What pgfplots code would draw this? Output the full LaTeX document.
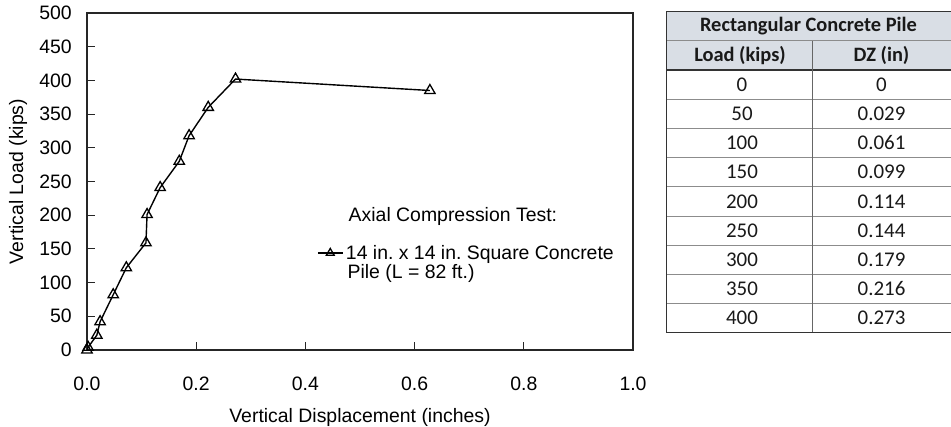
\documentclass[border=0pt]{standalone}
\usepackage{pgfplots}
\pgfplotsset{compat=1.18}
\usepackage{fontspec}
\setmainfont{Liberation Sans}
\newfontfamily\calibri{Carlito}
\definecolor{hdr}{HTML}{D9DEE5}
\definecolor{rule}{HTML}{8C8C8C}
\frenchspacing

\pgfplotstableread{
dz     load
0.000  0
0.002  4
0.018  22
0.024  42
0.048  82
0.072  122
0.108  159
0.110  201
0.134  241
0.169  280
0.187  318
0.222  360
0.272  402
0.628  385
}\pile

\begin{document}
\begin{tikzpicture}
\useasboundingbox (-87bp,-77bp) rectangle (864bp,350bp);
\begin{axis}[
    scale only axis, width=546bp, height=337bp,
    at={(0,0)}, anchor=south west,
    xmin=0, xmax=1, ymin=0, ymax=500,
    xtick={0,0.2,0.4,0.6,0.8,1.0},
    ytick={0,50,100,150,200,250,300,350,400,450,500},
    xtick pos=bottom, ytick pos=left,
    tick align=inside, major tick length=8bp,
    axis line style={line width=1.4pt, black!85},
    tick style={line width=1pt, black!85},
    /pgf/number format/assume math mode=true,
    xticklabel={\pgfmathprintnumber[fixed,fixed zerofill,precision=1]{\tick}},
    xticklabel style={anchor=north, inner sep=0pt, yshift=-27bp, font=\fontsize{19.5}{23}\selectfont},
    yticklabel style={anchor=east, inner sep=0pt, xshift=-15bp, font=\fontsize{19.5}{23}\selectfont},
    xlabel={Vertical Displacement (inches)},
    ylabel={Vertical Load (kips)},
    every axis x label/.style={at={(axis description cs:0.5,0)}, yshift=-67bp, anchor=center, font=\fontsize{19.5}{23}\selectfont},
    every axis y label/.style={at={(axis description cs:0,0.5)}, xshift=-69bp, rotate=90, anchor=center, font=\fontsize{19.5}{23}\selectfont},
    legend style={draw=none, fill=none, at={(axis cs:0.421,144)}, anchor=west,
        inner sep=0pt, font=\fontsize{19.5}{23}\selectfont,
        nodes={inner xsep=2.5bp}},
    legend image code/.code={\draw[mark repeat=2,mark phase=2,mark size=4.5bp]
        plot coordinates {(0bp,0bp)(12.5bp,0bp)(25bp,0bp)};},
]
\addplot[black, line width=1.4pt, mark=triangle, mark size=6bp,
    mark options={line width=1.3pt, fill=white}] table[x=dz, y=load] {\pile};
\addlegendentry{14 in. x 14 in. Square Concrete}
\node[anchor=west, inner sep=0pt, font=\fontsize{19.5}{23}\selectfont] at (axis cs:0.479,198) {Axial Compression Test:};
\node[anchor=west, inner sep=0pt, font=\fontsize{19.5}{23}\selectfont] at (axis cs:0.477,113) {Pile (L = 82 ft.)};
\end{axis}

% data table
\fill[hdr] (579bp,280.3bp) rectangle (864bp,338.5bp);
\foreach \k in {1,3,4,5,6,7,8,9,10} {
  \pgfmathsetmacro\yy{338.5-\k*29.2}
  \draw[rule, line width=0.6pt] (579bp,\yy bp) -- (864bp,\yy bp);
}
\draw[black!80, line width=1pt] (579bp,338.5bp) -- (864bp,338.5bp);
\draw[black!80, line width=1.4pt] (579bp,280.1bp) -- (864bp,280.1bp);
\draw[black!80, line width=1.4pt] (579bp,17.5bp) -- (864bp,17.5bp);
\draw[black!80, line width=1pt] (579bp,338.5bp) -- (579bp,17.5bp);
\draw[black!80, line width=1pt] (864bp,338.5bp) -- (864bp,17.5bp);
\draw[black!60, line width=0.8pt] (725bp,309.3bp) -- (725bp,17.5bp);
\begin{scope}[every node/.style={font=\calibri\fontsize{21}{25}\selectfont, text=black!90}]
\node[font=\calibri\bfseries\fontsize{20.5}{25}\selectfont] at (721.5bp,323.9bp) {Rectangular Concrete Pile};
\node[font=\calibri\bfseries\fontsize{20.5}{25}\selectfont] at (653bp,294.7bp) {Load (kips)};
\node[font=\calibri\bfseries\fontsize{20.5}{25}\selectfont] at (794.5bp,294.7bp) {DZ (in)};
\foreach \ld/\dz [count=\k from 0] in {0/0, 50/0.029, 100/0.061, 150/0.099, 200/0.114, 250/0.144, 300/0.179, 350/0.216, 400/0.273} {
  \pgfmathsetmacro\yy{338.5-(2.5+\k)*29.2}
  \node at (655bp,\yy bp) {\ld};
  \node at (794.5bp,\yy bp) {\dz};
}
\end{scope}
\end{tikzpicture}
\end{document}
